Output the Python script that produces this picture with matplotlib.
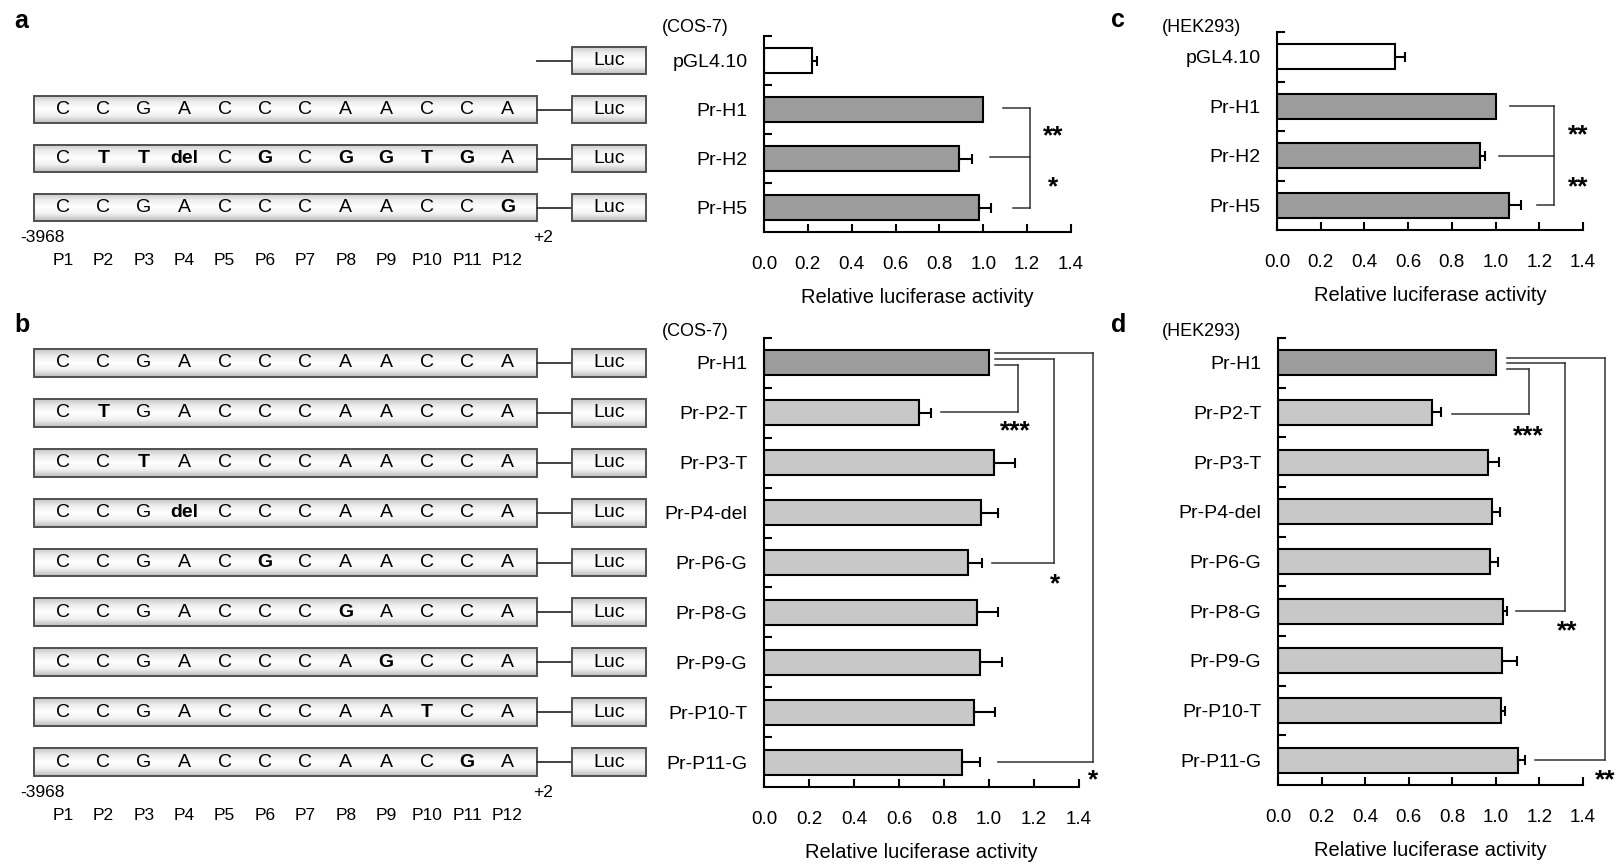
import numpy as np
import matplotlib
matplotlib.use("Agg")
import matplotlib.pyplot as plt
from matplotlib.patches import Rectangle
from matplotlib.colors import LinearSegmentedColormap

plt.rcParams['font.family'] = ['Liberation Sans', 'DejaVu Sans']

# ---------------- data ----------------
labels_a = ["pGL4.10", "Pr-H1", "Pr-H2", "Pr-H5"]
cos7_a = [0.22, 1.00, 0.89, 0.98]
cos7_a_err = [0.022, 0.0, 0.06, 0.055]
hek_c = [0.54, 1.00, 0.93, 1.06]
hek_c_err = [0.045, 0.0, 0.02, 0.055]
colors_a = ["white", "#9c9c9c", "#9c9c9c", "#9c9c9c"]

labels_b = ["Pr-H1", "Pr-P2-T", "Pr-P3-T", "Pr-P4-del", "Pr-P6-G",
            "Pr-P8-G", "Pr-P9-G", "Pr-P10-T", "Pr-P11-G"]
cos7_b = [1.00, 0.69, 1.02, 0.965, 0.905, 0.945, 0.96, 0.935, 0.88]
cos7_b_err = [0.0, 0.05, 0.095, 0.077, 0.066, 0.093, 0.096, 0.092, 0.08]
hek_d = [1.00, 0.705, 0.966, 0.982, 0.974, 1.035, 1.03, 1.023, 1.10]
hek_d_err = [0.0, 0.043, 0.05, 0.038, 0.038, 0.015, 0.066, 0.02, 0.036]
colors_b = ["#9c9c9c"] + ["#c8c8c8"] * 8

xticks = [0.0, 0.2, 0.4, 0.6, 0.8, 1.0, 1.2, 1.4]
xlabel = "Relative luciferase activity"

ref_seq = "C C G A C C C A A C C A".split()
seqs_a = [None,
          "C C G A C C C A A C C A".split(),
          "C T T del C G C G G T G A".split(),
          "C C G A C C C A A C C G".split()]
seqs_b = ["C C G A C C C A A C C A".split(),
          "C T G A C C C A A C C A".split(),
          "C C T A C C C A A C C A".split(),
          "C C G del C C C A A C C A".split(),
          "C C G A C G C A A C C A".split(),
          "C C G A C C C G A C C A".split(),
          "C C G A C C C A G C C A".split(),
          "C C G A C C C A A T C A".split(),
          "C C G A C C C A A C G A".split()]
pos_labels = ["P%d" % i for i in range(1, 13)]
start_label, end_label = "-3968", "+2"

# significance annotations (bracket segments and stars, data coords)
sig_a = dict(lines=[([1.09, 1.213], [0.96, 0.96]), ([1.03, 1.213], [1.97, 1.97]),
                    ([1.135, 1.213], [3.0, 3.0]), ([1.213, 1.213], [0.96, 3.0])],
             stars=[("**", 1.318, 1.46), ("*", 1.318, 2.5)])
sig_c = dict(lines=[([1.067, 1.268], [1.0, 1.0]), ([1.017, 1.268], [2.0, 2.0]),
                    ([1.19, 1.268], [3.0, 3.0]), ([1.268, 1.268], [1.0, 3.0])],
             stars=[("**", 1.377, 1.5), ("**", 1.377, 2.55)])
sig_b = dict(lines=[([1.027, 1.462], [-0.2, -0.2]), ([1.027, 1.289], [-0.08, -0.08]),
                    ([1.027, 1.129], [0.04, 0.04]),
                    ([0.787, 1.129], [0.98, 0.98]), ([1.129, 1.129], [0.04, 0.98]),
                    ([1.013, 1.289], [4.0, 4.0]), ([1.289, 1.289], [-0.08, 4.0]),
                    ([1.04, 1.462], [8.0, 8.0]), ([1.462, 1.462], [-0.2, 8.0])],
             stars=[("***", 1.116, 1.3), ("*", 1.293, 4.35), ("*", 1.462, 8.28)])
sig_d = dict(lines=[([1.05, 1.503], [-0.1, -0.1]), ([1.05, 1.319], [0.0, 0.0]),
                    ([1.05, 1.153], [0.12, 0.12]),
                    ([0.80, 1.153], [1.04, 1.04]), ([1.153, 1.153], [0.12, 1.04]),
                    ([1.092, 1.319], [5.0, 5.0]), ([1.319, 1.319], [0.0, 5.0]),
                    ([1.178, 1.503], [8.0, 8.0]), ([1.503, 1.503], [-0.1, 8.0])],
             stars=[("***", 1.147, 1.39), ("**", 1.327, 5.33), ("**", 1.503, 8.32)])

# ---------------- figure ----------------
W, H = 1617, 864
fig = plt.figure(figsize=(W / 100, H / 100), dpi=100)


def px_axes(x0, y0, x1, y1):
    return fig.add_axes([x0 / W, 1 - y1 / H, (x1 - x0) / W, (y1 - y0) / H])


def bar_panel(ax, labels, vals, errs, colors, sig):
    n = len(labels)
    y = np.arange(n)
    vals = np.asarray(vals)
    errs = np.asarray(errs)
    ax.barh(y, vals, height=0.5, color=colors, edgecolor="black",
            linewidth=1.5, zorder=2)
    m = errs > 0
    ax.errorbar(vals[m], y[m], xerr=[np.zeros(m.sum()), errs[m]], fmt="none",
                ecolor="black", elinewidth=1.5, capsize=3.6, capthick=1.5, zorder=3)
    ax.set_xlim(0, 1.4)
    ax.set_ylim(n - 0.5, -0.5)
    ax.set_xticks(xticks)
    ax.set_xticklabels(["%.1f" % v for v in xticks])
    ax.set_yticks(np.arange(n) - 0.5)
    ax.set_yticklabels([])
    ax.set_yticks(y, minor=True)
    ax.set_yticklabels(labels, minor=True)
    ax.tick_params(axis="y", which="major", direction="in", length=6, width=1.5)
    ax.tick_params(axis="y", which="minor", length=0, pad=12, labelsize=14)
    ax.tick_params(axis="x", direction="in", length=6, width=1.5, pad=17,
                   labelsize=13.5)
    for s in ("top", "right"):
        ax.spines[s].set_visible(False)
    for s in ("left", "bottom"):
        ax.spines[s].set_linewidth(1.5)
    ax.set_xlabel(xlabel, fontsize=14.5, labelpad=11)
    ax.patch.set_alpha(0)
    for xs, ys in sig["lines"]:
        ax.plot(xs, ys, color="#333333", lw=1.1, clip_on=False, zorder=4)
    for t, xs, ys in sig["stars"]:
        ax.text(xs, ys + 0.08, t, ha="center", va="center", fontsize=19,
                fontweight="bold", clip_on=False)


box_cmap = LinearSegmentedColormap.from_list(
    "box", ["#c6c6c6", "#eeeeee", "#ffffff", "#f0f0f0", "#bcbcbc"])
grad = np.linspace(0, 1, 64).reshape(-1, 1)


def gbox(ax, x0, x1, yc, h):
    ax.imshow(grad, cmap=box_cmap, aspect="auto", origin="upper",
              extent=(x0, x1, yc + h, yc - h), zorder=1, interpolation="bilinear")
    ax.add_patch(Rectangle((x0, yc - h), x1 - x0, 2 * h, fill=False,
                           edgecolor="#505050", lw=1.4, zorder=2))


def diagram(ax, seqs, n):
    bx0, bx1, lx0, lx1 = 34, 537, 572, 646
    step, first = 40.4, 63
    hh = 0.28
    for i, seq in enumerate(seqs):
        if seq is not None:
            gbox(ax, bx0, bx1, i, hh)
            for j, tok in enumerate(seq):
                ax.text(first + step * j, i, tok, ha="center", va="center",
                        fontsize=14,
                        fontweight="bold" if tok != ref_seq[j] else "normal",
                        zorder=3)
        ax.plot([bx1, lx0], [i, i], color="#333333", lw=1.3, zorder=2)
        gbox(ax, lx0, lx1, i, hh)
        ax.text((lx0 + lx1) / 2, i, "Luc", ha="center", va="center",
                fontsize=14, zorder=3)
    yb = n - 1 + 0.62
    ax.text(42, yb, start_label, ha="center", va="center", fontsize=12.5)
    ax.text(543, yb, end_label, ha="center", va="center", fontsize=12.5)
    for j, p in enumerate(pos_labels):
        ax.text(first + step * j, n - 1 + 1.08, p, ha="center", va="center",
                fontsize=12.5)
    ax.set_xlim(0, 700)
    ax.set_ylim(n - 0.5, -0.5)
    ax.axis("off")


# diagrams
axda = px_axes(0, 36, 700, 232)
diagram(axda, seqs_a, 4)
axdb = px_axes(0, 338, 700, 787)
diagram(axdb, seqs_b, 9)

# bar panels
axa = px_axes(764, 36, 1071, 232)
bar_panel(axa, labels_a, cos7_a, cos7_a_err, colors_a, sig_a)
axc = px_axes(1277, 32, 1583, 230)
bar_panel(axc, labels_a, hek_c, hek_c_err, colors_a, sig_c)
axb = px_axes(764, 338, 1079, 787)
bar_panel(axb, labels_b, cos7_b, cos7_b_err, colors_b, sig_b)
axd = px_axes(1278, 338, 1583, 785)
bar_panel(axd, labels_b, hek_d, hek_d_err, colors_b, sig_d)


def ftext(x, y, s, **kw):
    fig.text(x / W, 1 - y / H, s, **kw)


ftext(14, 28, "a", fontsize=18, fontweight="bold", ha="left", va="baseline")
ftext(14, 332, "b", fontsize=18, fontweight="bold", ha="left", va="baseline")
ftext(1111, 27, "c", fontsize=18, fontweight="bold", ha="left", va="baseline")
ftext(1111, 332, "d", fontsize=18, fontweight="bold", ha="left", va="baseline")
ftext(662, 27, "(COS-7)", fontsize=13, ha="left", va="center")
ftext(662, 331, "(COS-7)", fontsize=13, ha="left", va="center")
ftext(1162, 28, "(HEK293)", fontsize=13, ha="left", va="center")
ftext(1162, 331, "(HEK293)", fontsize=13, ha="left", va="center")

fig.savefig("out.png", dpi=100, facecolor="white")
